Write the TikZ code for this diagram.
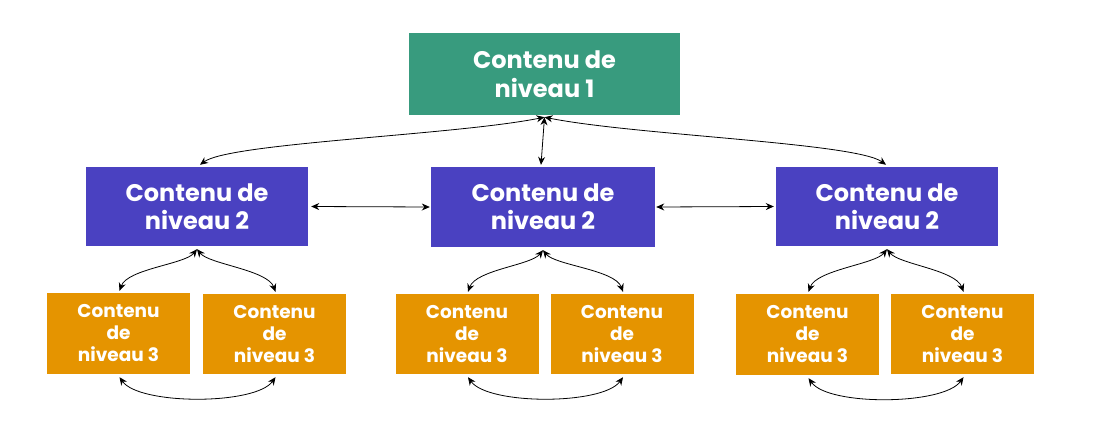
\documentclass[tikz,border=0pt]{standalone}
\usepackage{fontspec}
\setmainfont{Poppins}
\usetikzlibrary{arrows.meta}
\definecolor{lonec}{HTML}{389B7E}
\definecolor{ltwoc}{HTML}{4A41C1}
\definecolor{lthreec}{HTML}{E59400}
\tikzset{
  box/.style={inner sep=0pt, align=center, text=white},
  lone/.style={box, fill=lonec, minimum width=271pt, minimum height=82pt, font=\fontsize{24}{29}\selectfont\bfseries},
  ltwo/.style={box, fill=ltwoc, minimum width=222pt, minimum height=79pt, font=\fontsize{24}{28}\selectfont\bfseries},
  lthree/.style={box, fill=lthreec, minimum width=143pt, minimum height=81pt, font=\fontsize{18.5}{22}\selectfont\bfseries},
  link/.style={{Stealth[length=8pt,width=7pt]}-{Stealth[length=8pt,width=7pt]}, line width=0.8pt, black}
}
\begin{document}
\begin{tikzpicture}[x=1pt,y=-1pt]
\useasboundingbox (0,0) rectangle (1094,439);
\node[lone] (n1) at (544.5,74) {Contenu de\\niveau 1};
\node[ltwo] (a) at (197,206.5) {Contenu de\\niveau 2};
\node[ltwo, minimum width=224pt, minimum height=80pt] (b) at (543,207) {Contenu de\\niveau 2};
\node[ltwo] (c) at (887,206.5) {Contenu de\\niveau 2};
\node[lthree] (a1) at (118.5,333.5) {Contenu\\de\\niveau 3};
\node[lthree, minimum height=80pt] (a2) at (274.5,334) {Contenu\\de\\niveau 3};
\node[lthree, minimum height=80pt] (b1) at (467,334) {Contenu\\de\\niveau 3};
\node[lthree, minimum height=80pt] (b2) at (622,334) {Contenu\\de\\niveau 3};
\node[lthree] (c1) at (807.5,334.5) {Contenu\\de\\niveau 3};
\node[lthree, minimum height=80pt] (c2) at (962.5,334) {Contenu\\de\\niveau 3};
% top connectors
\coordinate (top) at ([yshift=-2pt]n1.south);
\draw[link] (top) .. controls +(-90,18) and +(30,-22) .. ([xshift=3pt,yshift=2pt]a.north);
\draw[link] (top) -- ([xshift=-2pt,yshift=2pt]b.north);
\draw[link] (top) .. controls +(90,18) and +(-30,-22) .. ([xshift=-1pt,yshift=2pt]c.north);
% horizontal
\draw[link] ([xshift=3pt]a.east) -- ([xshift=-1pt]b.west);
\draw[link] ([xshift=1pt]b.east) -- ([xshift=-2pt]c.west);
% level 2 -> level 3
\foreach \p/\l/\r in {a/a1/a2, b/b1/b2, c/c1/c2}{
  \coordinate (\p s) at ([yshift=-3pt]\p.south);
  \draw[link] (\p s) .. controls +(-12,15) and +(8,-22) .. ([xshift=1pt,yshift=2pt]\l.north);
  \draw[link] (\p s) .. controls +(12,15) and +(-8,-22) .. ([xshift=1pt,yshift=2pt]\r.north);
  \draw[link] ([xshift=1pt,yshift=-3pt]\l.south) .. controls +(20,28) and +(-20,28) .. ([xshift=1pt,yshift=-3pt]\r.south);
}
\end{tikzpicture}
\end{document}
